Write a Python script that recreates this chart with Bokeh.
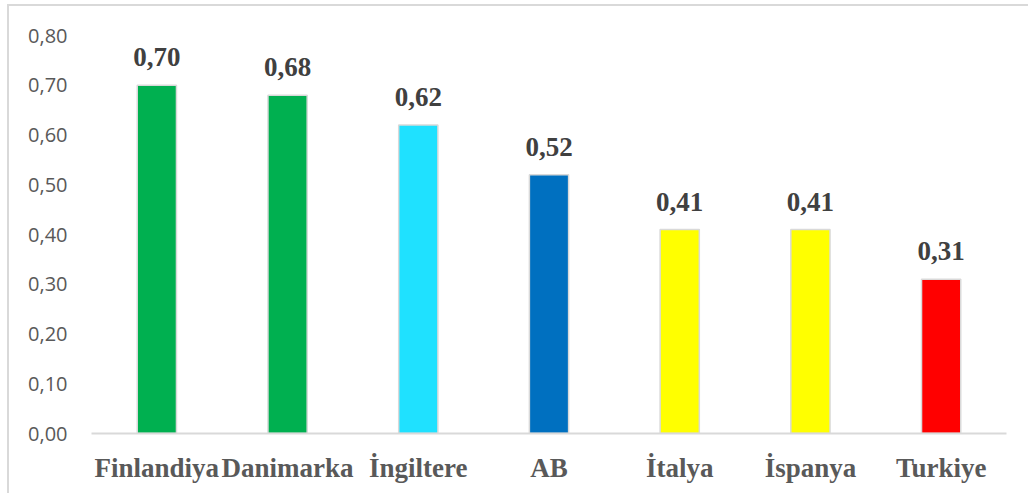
from bokeh.plotting import figure
from bokeh.models import ColumnDataSource, LabelSet, FixedTicker, Range1d
from bokeh.embed import file_html
from bokeh.resources import INLINE

# Chart data
countries = ["Finlandiya", "Danimarka", "İngiltere", "AB", "İtalya", "İspanya", "Turkiye"]
scores = [0.70, 0.68, 0.62, 0.52, 0.41, 0.41, 0.31]
bar_colors = ["#00B050", "#00B050", "#1FE1FF", "#0070C0", "#FFFF00", "#FFFF00", "#FF0000"]
y_ticks = [0.0, 0.1, 0.2, 0.3, 0.4, 0.5, 0.6, 0.7, 0.8]
y_tick_labels = ["0,00", "0,10", "0,20", "0,30", "0,40", "0,50", "0,60", "0,70", "0,80"]

source = ColumnDataSource(data=dict(
    country=countries,
    score=scores,
    color=bar_colors,
    label=[f"{v:.2f}".replace(".", ",") for v in scores],
))

p = figure(
    x_range=countries,
    y_range=Range1d(0, 0.8),
    width=1021, height=489,
    output_backend="svg",
    toolbar_location=None,
    min_border_left=82, min_border_right=24,
    min_border_top=29, min_border_bottom=62,
)
p.styles = {
    "margin-left": "7px", "margin-top": "4px",
    "border-left": "2px solid #d9d9d9", "border-top": "2px solid #d9d9d9",
}

p.vbar(x="country", top="score", width=0.3, source=source,
       fill_color="color", line_color="#d9d9d9", line_width=1.5)

labels = LabelSet(x="country", y="score", text="label", source=source,
                  text_align="center", text_baseline="alphabetic", y_offset=19,
                  text_font="Liberation Serif", text_font_style="bold",
                  text_font_size="27px", text_color="#404040")
p.add_layout(labels)

p.outline_line_color = None
p.background_fill_color = "white"
p.border_fill_color = "white"
p.xgrid.grid_line_color = None
p.ygrid.grid_line_color = None

# Category axis
p.xaxis.axis_line_color = "#d9d9d9"
p.xaxis.axis_line_width = 2
p.xaxis.major_tick_line_color = None
p.xaxis.minor_tick_line_color = None
p.xaxis.major_label_text_font = "Liberation Serif"
p.xaxis.major_label_text_font_style = "bold"
p.xaxis.major_label_text_font_size = "27px"
p.xaxis.major_label_text_color = "#595959"
p.xaxis.major_label_standoff = 13

# Value axis
p.yaxis.ticker = FixedTicker(ticks=y_ticks)
p.yaxis.major_label_overrides = {t: s for t, s in zip(y_ticks, y_tick_labels)}
p.yaxis.axis_line_color = None
p.yaxis.major_tick_line_color = None
p.yaxis.minor_tick_line_color = None
p.yaxis.major_label_text_font = "Open Sans"
p.yaxis.major_label_text_font_size = "20px"
p.yaxis.major_label_text_color = "#595959"
p.yaxis.major_label_standoff = 18

open("out.html", "w").write(file_html(p, INLINE))
